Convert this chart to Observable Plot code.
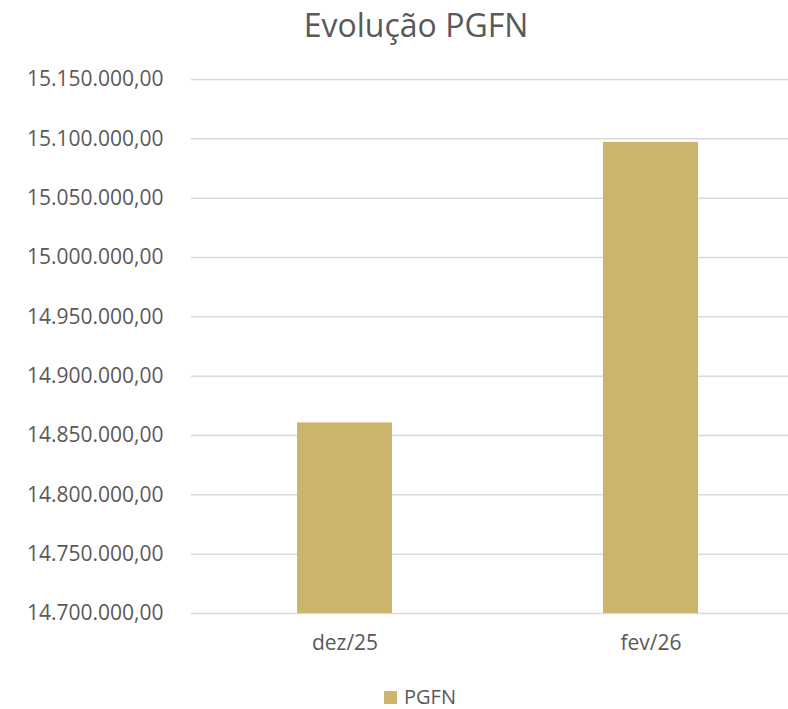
<!DOCTYPE html>
<html>
<head>
<meta charset="utf-8">
<script src="https://cdn.jsdelivr.net/npm/d3@7"></script>
<script src="https://cdn.jsdelivr.net/npm/@observablehq/plot@0.6"></script>
<style>
  html, body { margin: 0; padding: 0; background: #fff; }
  #wrap { position: relative; width: 788px; height: 709px; font-family: "Open Sans", sans-serif; color: #595959; }
  #title { position: absolute; top: 0px; left: 22px; width: 788px; text-align: center; font-size: 32px; line-height: 50px; }
  #legend { position: absolute; top: 683px; left: 0; width: 788px; text-align: center; font-size: 20px; line-height: 28px; padding-left: 52px; box-sizing: border-box; }
  #legend .sw { display: inline-block; width: 13px; height: 13px; background: #CDB46C; margin-right: 7px; vertical-align: 0px; }
  #chart { position: absolute; top: 0; left: 0; }
</style>
</head>
<body>
<div id="wrap">
  <div id="chart"></div>
  <div id="title">Evolução PGFN</div>
  <div id="legend"><span class="sw"></span>PGFN</div>
</div>
<script>
const categories = ["dez/25", "fev/26"];
const values = [14860650, 15097000];
const yTicks = [14700000, 14750000, 14800000, 14850000, 14900000, 14950000, 15000000, 15050000, 15100000, 15150000];
const seriesName = "PGFN";

const data = categories.map((c, i) => ({category: c, value: values[i], series: seriesName}));
const br = d3.formatLocale({decimal: ",", thousands: ".", grouping: [3], currency: ["", ""]});
const fmt = br.format(",.2f");

const chart = Plot.plot({
  width: 788,
  height: 709,
  marginTop: 79,
  marginBottom: 96,
  marginLeft: 191,
  marginRight: 0,
  style: {fontFamily: "'Open Sans', sans-serif", fontSize: "21px", color: "#595959", background: "transparent"},
  x: {domain: categories, range: [191, 803], paddingInner: 0.69, paddingOuter: 0.345, label: null},
  y: {domain: [14700000, 15150000], label: null},
  marks: [
    Plot.gridY(yTicks, {stroke: "#d9d9d9", strokeOpacity: 1, strokeWidth: 1.5}),
    Plot.barY(data, {x: "category", y1: 14700000, y2: "value", fill: "#CDB46C"}),
    Plot.axisY(yTicks, {tickFormat: fmt, tickSize: 0, tickPadding: 28, fontSize: 21, fill: "#595959"}),
    Plot.axisX({tickSize: 0, tickPadding: 22, fontSize: 21, fill: "#595959"})
  ]
});
document.getElementById("chart").appendChild(chart);
</script>
</body>
</html>
